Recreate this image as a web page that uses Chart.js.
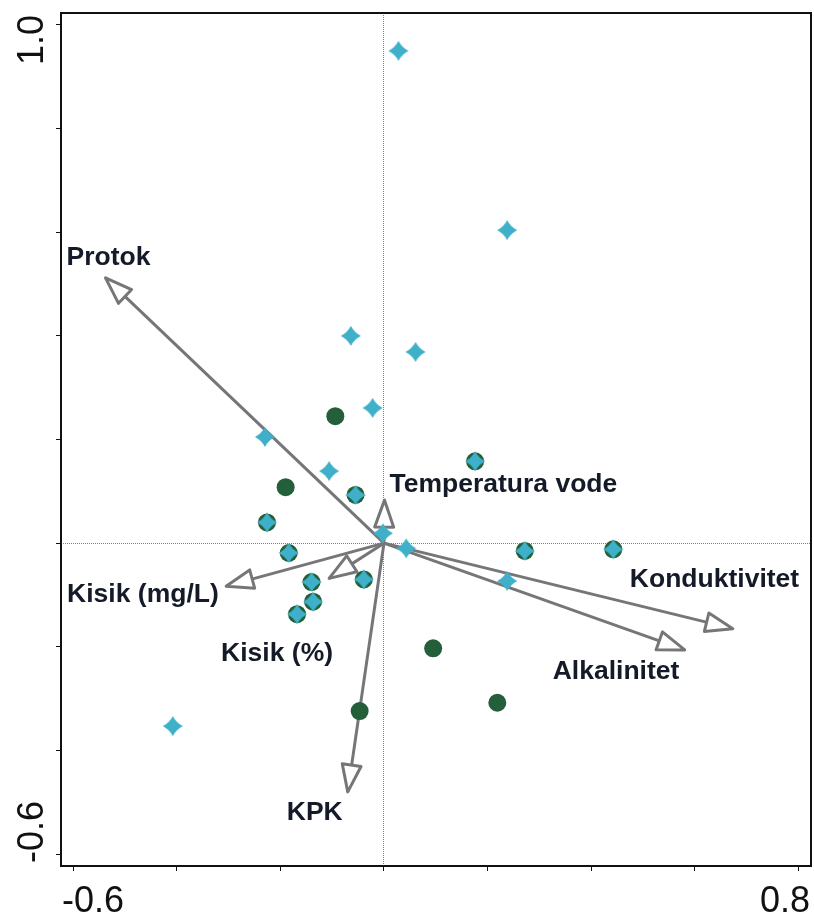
<!DOCTYPE html>
<html>
<head>
<meta charset="utf-8">
<script src="https://cdn.jsdelivr.net/npm/chart.js@4/dist/chart.umd.min.js"></script>
<style>
  html, body { margin: 0; padding: 0; background: #fff; }
  #wrap { width: 814px; height: 916px; position: relative; }
</style>
</head>
<body>
<div id="wrap"><canvas id="biplot"></canvas></div>
<script>
// axis ticks (marks) and the only labelled ends
const xTicks = [-0.6, -0.4, -0.2, 0, 0.2, 0.4, 0.6, 0.8];
const yTicks = [-0.6, -0.4, -0.2, 0, 0.2, 0.4, 0.6, 0.8, 1.0];
const xTickLabels = ["-0.6", "0.8"];
const yTickLabels = ["1.0", "-0.6"];

// sites shown as blue stars
const starX = [0.028, 0.238, -0.064, 0.061, -0.022, -0.230, -0.106, 0.176, -0.055, -0.226, -0.002,
  0.043, -0.184, 0.272, 0.443, 0.238, -0.140, -0.039, -0.137, -0.168, -0.408];
const starY = [0.950, 0.604, 0.400, 0.369, 0.261, 0.205, 0.139, 0.158, 0.093, 0.040, 0.019,
  -0.010, -0.019, -0.015, -0.012, -0.073, -0.075, -0.070, -0.113, -0.137, -0.353];

// sites shown as green circles
const circleX = [0.176, -0.055, -0.226, -0.184, 0.272, 0.443, -0.140, -0.039, -0.137, -0.168,
  -0.094, -0.190, 0.095, 0.219, -0.047];
const circleY = [0.158, 0.093, 0.040, -0.019, -0.015, -0.012, -0.075, -0.070, -0.113, -0.137,
  0.245, 0.108, -0.203, -0.308, -0.324];

// environmental variables (arrow tips)
const vectorNames = ["Protok", "Temperatura vode", "Konduktivitet", "Alkalinitet", "Kisik (mg/L)", "Kisik (%)", "KPK"];
const vectorX = [-0.538, 0.001, 0.674, 0.581, -0.305, -0.106, -0.070];
const vectorY = [0.512, 0.083, -0.165, -0.206, -0.083, -0.068, -0.480];

// label placement relative to arrow tip, in px
const labelOffsets = [[-39, -13], [5, -8], [-103, -42], [-132, 29], [-159, 16], [-108, 83], [-61, 28]];

const STAR_COLOR = "#3fb0c9";
const GREEN = "#235f39";
const ARROW = "#767679";
const TEXT = "#141a27";
const FONT = '"Liberation Sans", Arial, sans-serif';

function makeStar(size, color) {
  const c = document.createElement("canvas");
  c.width = size; c.height = size;
  const g = c.getContext("2d");
  const m = size / 2, r = size / 2 - 1, k = r * 0.34;
  g.fillStyle = color;
  g.beginPath();
  g.moveTo(m, m - r);
  g.quadraticCurveTo(m + k, m - k, m + r, m);
  g.quadraticCurveTo(m + k, m + k, m, m + r);
  g.quadraticCurveTo(m - k, m + k, m - r, m);
  g.quadraticCurveTo(m - k, m - k, m, m - r);
  g.closePath();
  g.fill();
  return c;
}

const starImg = makeStar(22, STAR_COLOR);

const datasets = [];
vectorNames.forEach((name, i) => {
  datasets.push({
    label: name,
    isVector: true,
    data: [{ x: 0, y: 0 }, { x: vectorX[i], y: vectorY[i] }],
    showLine: true,
    borderColor: ARROW,
    borderWidth: 3,
    pointRadius: 0,
    order: 3
  });
});
datasets.push({
  label: "circles",
  data: circleX.map((x, i) => ({ x: x, y: circleY[i] })),
  pointStyle: "circle",
  pointRadius: 9,
  backgroundColor: GREEN,
  borderWidth: 0,
  order: 2
});
datasets.push({
  label: "stars",
  data: starX.map((x, i) => ({ x: x, y: starY[i] })),
  pointStyle: starImg,
  pointRadius: 9,
  order: 1
});

// open triangle head drawn right after each arrow line
const arrowHeads = {
  id: "arrowHeads",
  afterDatasetDraw(chart, args) {
    const ds = chart.data.datasets[args.index];
    if (!ds.isVector) return;
    const p0 = args.meta.data[0], p1 = args.meta.data[1];
    const a = Math.atan2(p1.y - p0.y, p1.x - p0.x);
    const len = 27, half = 9.5;
    const bx = p1.x - len * Math.cos(a), by = p1.y - len * Math.sin(a);
    const ctx = chart.ctx;
    ctx.save();
    ctx.beginPath();
    ctx.moveTo(p1.x, p1.y);
    ctx.lineTo(bx + half * Math.sin(a), by - half * Math.cos(a));
    ctx.lineTo(bx - half * Math.sin(a), by + half * Math.cos(a));
    ctx.closePath();
    ctx.fillStyle = "#fff";
    ctx.fill();
    ctx.lineWidth = 3;
    ctx.lineJoin = "round";
    ctx.strokeStyle = ARROW;
    ctx.stroke();
    ctx.restore();
  }
};

const frameAndText = {
  id: "frameAndText",
  afterDraw(chart) {
    const { ctx, chartArea: ca } = chart;
    ctx.save();
    ctx.strokeStyle = "#111";
    ctx.lineWidth = 2;
    ctx.strokeRect(ca.left, ca.top, ca.right - ca.left, ca.bottom - ca.top);

    // vector labels
    ctx.fillStyle = TEXT;
    ctx.font = "bold 26.5px " + FONT;
    ctx.textAlign = "left";
    ctx.textBaseline = "alphabetic";
    chart.data.datasets.forEach((ds, i) => {
      if (!ds.isVector) return;
      const tip = chart.getDatasetMeta(i).data[1];
      const off = labelOffsets[i];
      ctx.fillText(ds.label, tip.x + off[0], tip.y + off[1]);
    });

    // end tick labels
    ctx.fillStyle = "#111";
    ctx.font = "36px " + FONT;
    const by = ca.bottom + 46;
    ctx.textAlign = "left";
    ctx.fillText(xTickLabels[0], ca.left + 1, by);
    ctx.textAlign = "right";
    ctx.fillText(xTickLabels[1], ca.right - 1, by);

    ctx.save();
    ctx.translate(ca.left - 18, ca.top + 2);
    ctx.rotate(-Math.PI / 2);
    ctx.textAlign = "right";
    ctx.fillText(yTickLabels[0], 0, 0);
    ctx.restore();
    ctx.save();
    ctx.translate(ca.left - 18, ca.bottom - 3);
    ctx.rotate(-Math.PI / 2);
    ctx.textAlign = "left";
    ctx.fillText(yTickLabels[1], 0, 0);
    ctx.restore();
    ctx.restore();
  }
};

function axisGrid() {
  return {
    drawOnChartArea: true,
    drawTicks: true,
    tickLength: 5,
    tickWidth: 1,
    tickColor: "#111",
    lineWidth: 1,
    color: (c) => (c.tick && c.tick.value === 0 ? "#4f9a75" : "rgba(0,0,0,0)")
  };
}

new Chart(document.getElementById("biplot"), {
  type: "scatter",
  data: { datasets: datasets },
  options: {
    responsive: true,
    maintainAspectRatio: false,
    animation: false,
    events: [],
    layout: { autoPadding: false, padding: { left: 56, top: 13, right: 3, bottom: 45 } },
    plugins: {
      legend: { display: false },
      tooltip: { enabled: false }
    },
    scales: {
      x: {
        type: "linear",
        min: -0.624,
        max: 0.825,
        afterBuildTicks: (axis) => { axis.ticks = xTicks.map((v) => ({ value: v })); },
        ticks: { display: false },
        grid: axisGrid(),
        border: { display: false, dash: [1, 1] }
      },
      y: {
        type: "linear",
        min: -0.623,
        max: 1.023,
        afterBuildTicks: (axis) => { axis.ticks = yTicks.map((v) => ({ value: v })); },
        ticks: { display: false },
        grid: axisGrid(),
        border: { display: false, dash: [1, 1] }
      }
    }
  },
  plugins: [arrowHeads, frameAndText]
});
</script>
</body>
</html>
